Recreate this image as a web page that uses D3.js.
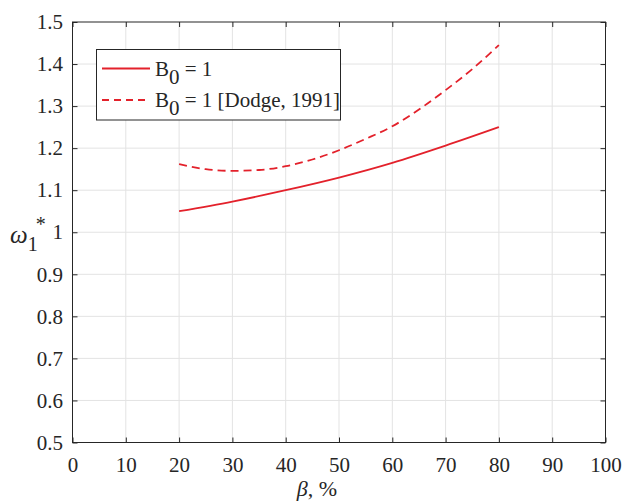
<!DOCTYPE html>
<html><head><meta charset="utf-8">
<script src="https://cdn.jsdelivr.net/npm/d3@7"></script>
</head><body style="margin:0"><svg id="c" width="625" height="504"></svg>
<script>
const xTicks = [0,10,20,30,40,50,60,70,80,90,100];
const yTicks = [0.5,0.6,0.7,0.8,0.9,1,1.1,1.2,1.3,1.4,1.5];
const solidBeta = [20,30,40,50,60,70,80];
const solidOmega = [1.05,1.073,1.100,1.130,1.165,1.206,1.25];
const dashBeta = [20,25,30,35,40,45,50,55,60,65,70,75,80];
const dashOmega = [1.162,1.150,1.146,1.148,1.157,1.173,1.195,1.222,1.252,1.292,1.338,1.388,1.445];
const legendLabels = ["= 1","= 1 [Dodge, 1991]"];

const FF = "Liberation Serif";
const svg = d3.select("#c");
const L=72.5,R=605.5,T=22,B=442.5;
const x = d3.scaleLinear().domain([0,100]).range([L,R]);
const y = d3.scaleLinear().domain([0.5,1.5]).range([B,T]);
const red = "#e3212b", axc="#262626", gc="#e3e3e3";

svg.append("rect").attr("x",0).attr("y",0).attr("width",625).attr("height",504).attr("fill","#fff");
svg.append("g").selectAll("line").data(xTicks.slice(1,-1)).join("line")
  .attr("x1",d=>x(d)).attr("x2",d=>x(d)).attr("y1",T).attr("y2",B).attr("stroke",gc).attr("stroke-width",1);
svg.append("g").selectAll("line").data(yTicks.slice(1,-1)).join("line")
  .attr("y1",d=>y(d)).attr("y2",d=>y(d)).attr("x1",L).attr("x2",R).attr("stroke",gc).attr("stroke-width",1);

function styleAxis(g){g.attr("font-family",null).attr("font-size",null);g.select(".domain").remove();g.selectAll("line").attr("stroke",axc);g.selectAll("text").attr("fill",axc).style("font-family",FF).attr("font-size",21);}
svg.append("g").attr("transform",`translate(0,${B})`).call(d3.axisBottom(x).tickValues(xTicks).tickSizeInner(-5).tickSizeOuter(0).tickPadding(15).tickFormat(d3.format("d"))).call(styleAxis);
svg.append("g").attr("transform",`translate(0,${T})`).call(d3.axisTop(x).tickValues(xTicks).tickSizeInner(-5).tickSizeOuter(0).tickFormat("")).call(styleAxis);
svg.append("g").attr("transform",`translate(${L},0)`).call(d3.axisLeft(y).tickValues(yTicks).tickSizeInner(-5).tickSizeOuter(0).tickPadding(9.5).tickFormat(d=>d3.format(".1f")(d).replace(/^1\.0$/,"1"))).call(styleAxis);
svg.append("g").attr("transform",`translate(${R},0)`).call(d3.axisRight(y).tickValues(yTicks).tickSizeInner(-5).tickSizeOuter(0).tickFormat("")).call(styleAxis);
svg.append("rect").attr("x",L).attr("y",T).attr("width",R-L).attr("height",B-T).attr("fill","none").attr("stroke",axc).attr("stroke-width",1);

const line = d3.line().x(d=>x(d[0])).y(d=>y(d[1])).curve(d3.curveMonotoneX);
svg.append("path").datum(solidBeta.map((b,i)=>[b,solidOmega[i]])).attr("d",line).attr("fill","none").attr("stroke",red).attr("stroke-width",1.8);
svg.append("path").datum(dashBeta.map((b,i)=>[b,dashOmega[i]])).attr("d",line).attr("fill","none").attr("stroke",red).attr("stroke-width",1.8).attr("stroke-dasharray","8,5");

const lg = svg.append("g");
lg.append("rect").attr("x",96.5).attr("y",49.5).attr("width",244).attr("height",70.5).attr("fill","#fff").attr("stroke",axc).attr("stroke-width",1);
[0,1].forEach(i=>{
  const yy = i===0?68.5:100;
  lg.append("line").attr("x1",102).attr("x2",150).attr("y1",yy).attr("y2",yy).attr("stroke",red).attr("stroke-width",1.8)
    .attr("stroke-dasharray",i===1?"7,5":null);
  const t = lg.append("text").attr("x",155).attr("y",yy+7).attr("fill",axc).style("font-family",FF).attr("font-size",21);
  t.append("tspan").text("B");
  t.append("tspan").attr("dy",8).text("0");
  t.append("tspan").attr("dy",-8).text(" "+legendLabels[i]);
});

const xl = svg.append("text").attr("x",317).attr("y",496).attr("text-anchor","middle").attr("fill",axc).style("font-family",FF).attr("font-size",22);
xl.append("tspan").attr("font-style","italic").text("β");
xl.append("tspan").text(", %");
const yl = svg.append("text").attr("x",10).attr("y",243).attr("fill",axc).style("font-family",FF).attr("font-size",25);
yl.append("tspan").attr("font-style","italic").text("ω");
yl.append("tspan").attr("dy",8).attr("font-size",20).text("1");
yl.append("tspan").attr("dy",-20).attr("dx",-2).attr("font-size",20).text("*");
</script></body></html>
